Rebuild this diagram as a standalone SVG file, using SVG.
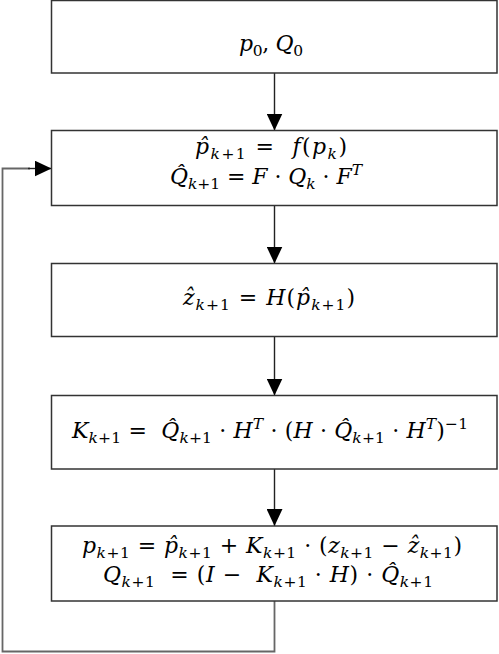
<svg xmlns="http://www.w3.org/2000/svg" width="499" height="654" viewBox="0 0 499 654">
<style>
.box{fill:#fff;stroke:#333;stroke-width:1.5}
.t{font-family:"DejaVu Serif",serif;font-size:22px;fill:#000;text-anchor:middle;white-space:pre}
.i{font-style:italic}
.s{font-size:15.5px}
.c{fill:none;stroke:#222;stroke-width:1.4}
.loop{fill:none;stroke:#666;stroke-width:1.8}
</style>
<defs>
<marker id="ah" viewBox="0 0 17 16" refX="17" refY="8" markerWidth="17" markerHeight="16" markerUnits="userSpaceOnUse" orient="auto">
<path d="M0,0 L17,8 L0,16 Z" fill="#000"/>
</marker>
</defs>
<rect width="499" height="654" fill="#fff"/>
<g id="connectors">
<line class="c" x1="274.5" y1="73" x2="274.5" y2="130.5" marker-end="url(#ah)"/>
<line class="c" x1="274.5" y1="206" x2="274.5" y2="263.5" marker-end="url(#ah)"/>
<line class="c" x1="274.5" y1="337" x2="274.5" y2="395.5" marker-end="url(#ah)"/>
<line class="c" x1="274.5" y1="469" x2="274.5" y2="526" marker-end="url(#ah)"/>
<path class="loop" d="M274.5,601 V651.5 H2.5 V168.5 H30"/>
<line class="c" x1="28" y1="168.5" x2="51.5" y2="168.5" marker-end="url(#ah)"/>
</g>
<g id="n1">
<rect class="box" x="51.5" y="0.5" width="445.5" height="72.5"/>
<text class="t" x="271" y="51" textLength="64" lengthAdjust="spacing"><tspan class="i">p</tspan><tspan class="s" dy="5">0</tspan><tspan dy="-5">, </tspan><tspan class="i">Q</tspan><tspan class="s" dy="5">0</tspan></text>
</g>
<g id="n2">
<rect class="box" x="51.5" y="130.5" width="445.5" height="75"/>
<text class="t" x="271" y="154" textLength="152" lengthAdjust="spacing"><tspan class="i">p̂</tspan><tspan class="s" dy="5"><tspan class="i">k</tspan>+1</tspan><tspan dy="-5"> =  </tspan><tspan class="i">f</tspan>(<tspan class="i">p</tspan><tspan class="s i" dy="5">k</tspan><tspan dy="-5">)</tspan></text>
<text class="t" x="266" y="184" textLength="192" lengthAdjust="spacing"><tspan class="i">Q̂</tspan><tspan class="s" dy="5"><tspan class="i">k</tspan>+1</tspan><tspan dy="-5"> = </tspan><tspan class="i">F</tspan> · <tspan class="i">Q</tspan><tspan class="s i" dy="5">k</tspan><tspan dy="-5"> · </tspan><tspan class="i">F</tspan><tspan class="s i" dy="-9">T</tspan></text>
</g>
<g id="n3">
<rect class="box" x="51.5" y="263.5" width="445.5" height="73"/>
<text class="t" x="269" y="305" textLength="172" lengthAdjust="spacing"><tspan class="i">ẑ</tspan><tspan class="s" dy="5"><tspan class="i">k</tspan>+1</tspan><tspan dy="-5"> = </tspan><tspan class="i">H</tspan>(<tspan class="i">p̂</tspan><tspan class="s" dy="5"><tspan class="i">k</tspan>+1</tspan><tspan dy="-5">)</tspan></text>
</g>
<g id="n4">
<rect class="box" x="51.5" y="395.5" width="445.5" height="73.5"/>
<text class="t" x="270" y="438" textLength="396" lengthAdjust="spacing"><tspan class="i">K</tspan><tspan class="s" dy="5"><tspan class="i">k</tspan>+1</tspan><tspan dy="-5"> =  </tspan><tspan class="i">Q̂</tspan><tspan class="s" dy="5"><tspan class="i">k</tspan>+1</tspan><tspan dy="-5"> · </tspan><tspan class="i">H</tspan><tspan class="s i" dy="-9">T</tspan><tspan dy="9"> · (</tspan><tspan class="i">H</tspan> · <tspan class="i">Q̂</tspan><tspan class="s" dy="5"><tspan class="i">k</tspan>+1</tspan><tspan dy="-5"> · </tspan><tspan class="i">H</tspan><tspan class="s i" dy="-9">T</tspan><tspan dy="9">)</tspan><tspan class="s" dy="-9">−1</tspan></text>
</g>
<g id="n5">
<rect class="box" x="51.5" y="526" width="445.5" height="75"/>
<text class="t" x="272" y="553" textLength="380" lengthAdjust="spacing"><tspan class="i">p</tspan><tspan class="s" dy="5"><tspan class="i">k</tspan>+1</tspan><tspan dy="-5"> = </tspan><tspan class="i">p̂</tspan><tspan class="s" dy="5"><tspan class="i">k</tspan>+1</tspan><tspan dy="-5"> + </tspan><tspan class="i">K</tspan><tspan class="s" dy="5"><tspan class="i">k</tspan>+1</tspan><tspan dy="-5"> · (</tspan><tspan class="i">z</tspan><tspan class="s" dy="5"><tspan class="i">k</tspan>+1</tspan><tspan dy="-5"> − </tspan><tspan class="i">ẑ</tspan><tspan class="s" dy="5"><tspan class="i">k</tspan>+1</tspan><tspan dy="-5">)</tspan></text>
<text class="t" x="268" y="582" textLength="330" lengthAdjust="spacing"><tspan class="i">Q</tspan><tspan class="s" dy="5"><tspan class="i">k</tspan>+1</tspan><tspan dy="-5">  = (</tspan><tspan class="i">I</tspan> −  <tspan class="i">K</tspan><tspan class="s" dy="5"><tspan class="i">k</tspan>+1</tspan><tspan dy="-5"> · </tspan><tspan class="i">H</tspan>) · <tspan class="i">Q̂</tspan><tspan class="s" dy="5"><tspan class="i">k</tspan>+1</tspan></text>
</g>
</svg>
